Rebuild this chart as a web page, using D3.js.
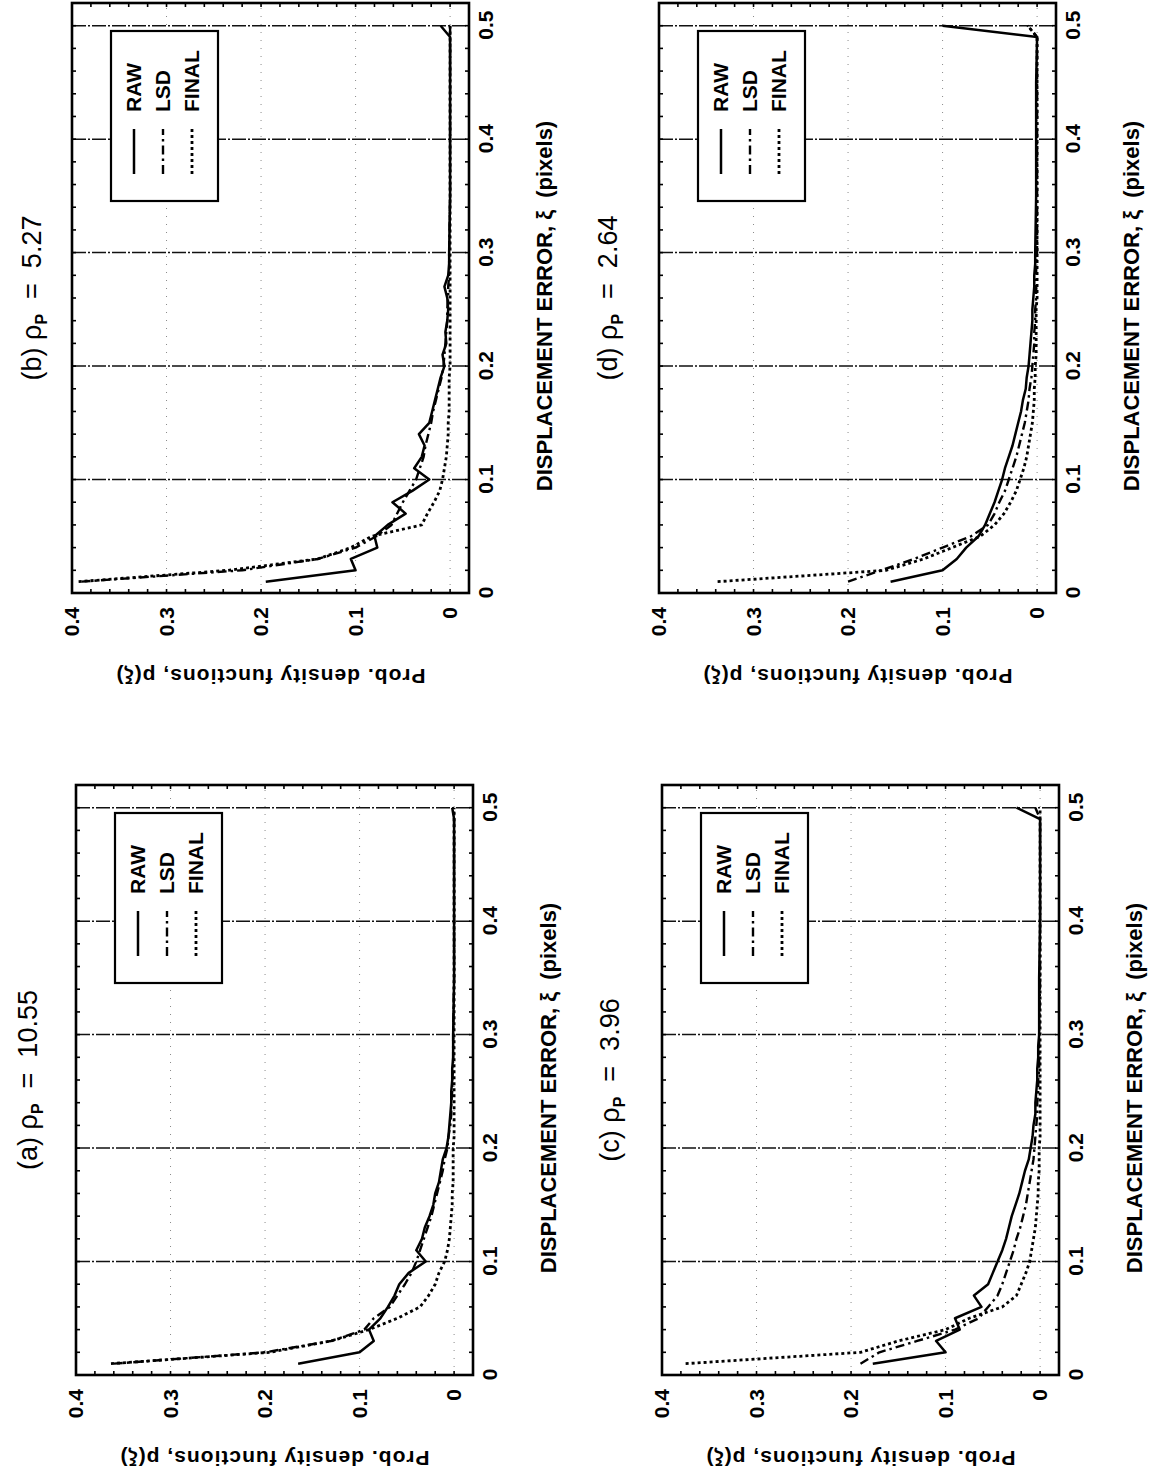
<!DOCTYPE html>
<html><head><meta charset="utf-8">
<script src="https://cdn.jsdelivr.net/npm/d3@7"></script>
<style>
body{margin:0;background:#fff;}
svg{display:block;}
text{font-family:"Liberation Sans",Arial,Helvetica,sans-serif;fill:#000;}
</style></head><body>
<svg id="chart" width="1149" height="1478"></svg>
<script>
// ---- data ----
const xValues = [0.01,0.02,0.03,0.04,0.05,0.06,0.07,0.08,0.09,0.10,
                 0.11,0.12,0.13,0.14,0.15,0.16,0.17,0.18,0.19,0.20,
                 0.21,0.22,0.23,0.24,0.25,0.26,0.27,0.28,0.29,0.30,
                 0.35,0.40,0.45,0.49,0.50];
const panelLabels = ["(a)","(b)","(c)","(d)"];
const rhoValues = ["10.55","5.27","3.96","2.64"];
const seriesNames = ["RAW","LSD","FINAL"];
const xTickValues = [0,0.1,0.2,0.3,0.4,0.5];
const yTickValues = [0,0.1,0.2,0.3,0.4];
const xDomain = [0,0.52];
const yDomain = [-0.02,0.4];

const rawA   = [0.165,0.100,0.085,0.090,0.078,0.070,0.063,0.058,0.048,0.030, 0.040,0.034,0.031,0.026,0.022,0.020,0.016,0.014,0.012,0.008, 0.006,0.005,0.004,0.003,0.003,0.002,0.002,0.001,0.001,0.001, 0,0,0,0,0.002];
const lsdA   = [0.360,0.200,0.130,0.095,0.085,0.068,0.060,0.052,0.045,0.040, 0.036,0.032,0.028,0.024,0.021,0.018,0.015,0.012,0.010,0.007, 0.006,0.004,0.003,0.003,0.002,0.002,0.001,0.001,0.001,0.001, 0,0,0,0,0];
const finalA = [0.363,0.195,0.130,0.090,0.060,0.036,0.027,0.020,0.016,0.010, 0.007,0.005,0.004,0.003,0.002,0.002,0.001,0.001,0.001,0.001, 0,0,0,0,0,0,0,0,0,0, 0,0,0,0,0];

const rawB   = [0.195,0.100,0.105,0.077,0.080,0.066,0.047,0.061,0.040,0.022, 0.038,0.030,0.027,0.033,0.022,0.019,0.016,0.013,0.010,0.006, 0.008,0.004,0.005,0.003,0.002,0.003,0.006,0.002,0.001,0.001, 0,0,0,0,0.010];
const lsdB   = [0.390,0.220,0.140,0.100,0.078,0.062,0.056,0.050,0.043,0.036, 0.032,0.028,0.026,0.023,0.020,0.018,0.015,0.012,0.009,0.007, 0.006,0.005,0.004,0.003,0.003,0.002,0.002,0.001,0.001,0.001, 0,0,0,0,0];
const finalB = [0.393,0.235,0.140,0.105,0.083,0.030,0.024,0.017,0.011,0.008, 0.006,0.004,0.003,0.002,0.002,0.001,0.001,0.001,0.001,0, 0,0,0,0,0,0,0,0,0,0, 0,0,0,0,0];

const rawC   = [0.177,0.100,0.110,0.085,0.090,0.062,0.070,0.055,0.050,0.045, 0.040,0.036,0.033,0.030,0.026,0.022,0.019,0.016,0.012,0.010, 0.008,0.007,0.005,0.005,0.004,0.003,0.003,0.002,0.002,0.001, 0.001,0,0,0,0.025];
const lsdC   = [0.190,0.170,0.130,0.090,0.065,0.055,0.045,0.040,0.036,0.032, 0.028,0.025,0.021,0.018,0.015,0.013,0.011,0.009,0.007,0.006, 0.005,0.004,0.003,0.003,0.002,0.002,0.001,0.001,0.001,0.001, 0,0,0,0,0.005];
const finalC = [0.375,0.190,0.150,0.100,0.075,0.040,0.025,0.020,0.015,0.011, 0.009,0.007,0.005,0.004,0.003,0.002,0.002,0.001,0.001,0.001, 0,0,0,0,0,0,0,0,0,0, 0,0,0,0,0];

const rawD   = [0.155,0.100,0.085,0.075,0.062,0.055,0.050,0.045,0.041,0.037, 0.034,0.030,0.026,0.023,0.020,0.017,0.015,0.012,0.011,0.009, 0.008,0.007,0.006,0.005,0.005,0.004,0.003,0.003,0.002,0.002, 0.001,0.001,0.001,0,0.100];
const lsdD   = [0.200,0.165,0.130,0.100,0.070,0.052,0.045,0.040,0.034,0.030, 0.026,0.022,0.019,0.016,0.013,0.011,0.009,0.008,0.006,0.005, 0.004,0.003,0.003,0.002,0.002,0.001,0.001,0.001,0.001,0, 0,0,0,0,0.010];
const finalD = [0.338,0.160,0.120,0.090,0.060,0.045,0.035,0.028,0.022,0.018, 0.014,0.011,0.009,0.007,0.005,0.004,0.003,0.003,0.002,0.002, 0.001,0.001,0.001,0.001,0.001,0,0,0,0,0, 0,0,0,0,0.010];

const panelSeries = [[rawA,lsdA,finalA],[rawB,lsdB,finalB],[rawC,lsdC,finalC],[rawD,lsdD,finalD]];

// ---- layout (unrotated page coordinates: 1478 wide x 1149 tall) ----
const W = 590, H = 397;
const layout = [
  {left:103, top:76,  titleY:28},
  {left:885, top:72,  titleY:32},
  {left:103, top:662, titleY:610},
  {left:885, top:659, titleY:608}
];
const styles = [
  {dash:null,          width:2.5},
  {dash:"9,4,2.5,4",   width:2.4},
  {dash:"3,3",         width:2.8}
];

const svg = d3.select("#chart");
svg.append("rect").attr("width",1149).attr("height",1478).attr("fill","#fff");
const page = svg.append("g").attr("transform","translate(0,1478) rotate(-90)");

const fmt = d => d === 0 ? "0" : d3.format(".1f")(d);

layout.forEach((L, i) => {
  const g = page.append("g").attr("transform", `translate(${L.left},${L.top})`);
  const x = d3.scaleLinear().domain(xDomain).range([0, W]);
  const y = d3.scaleLinear().domain(yDomain).range([H, 0]);

  // faint dotted grid at p values
  g.selectAll(".pg").data(yTickValues.filter(v => v < 0.4)).join("line")
    .attr("x1",0).attr("x2",W).attr("y1",d=>y(d)).attr("y2",d=>y(d))
    .attr("stroke","#8a8a8a").attr("stroke-width",1).attr("stroke-dasharray","1,7");
  // dash-dot grid at x values
  g.selectAll(".xg").data(xTickValues.filter(v => v > 0)).join("line")
    .attr("x1",d=>x(d)).attr("x2",d=>x(d)).attr("y1",0).attr("y2",H)
    .attr("stroke","#111").attr("stroke-width",1.5).attr("stroke-dasharray","14,2,2,2");

  // curves
  const line = d3.line().x(d => x(d[0])).y(d => y(d[1]));
  [2,1,0].forEach(s => {
    const pts = xValues.map((xv, k) => [xv, panelSeries[i][s][k]]);
    g.append("path").datum(pts).attr("d", line)
      .attr("fill","none").attr("stroke","#000")
      .attr("stroke-width", styles[s].width)
      .attr("stroke-linejoin","round")
      .attr("stroke-dasharray", styles[s].dash);
  });

  // frame
  g.append("rect").attr("x",0).attr("y",0).attr("width",W).attr("height",H)
    .attr("fill","none").attr("stroke","#000").attr("stroke-width",2.6);

  // minor inward ticks every 0.02
  const xt = d3.range(0, 0.5201, 0.02);
  const yt = d3.range(-0.02, 0.4001, 0.02);
  g.selectAll(".tb").data(xt).join("line")
    .attr("x1",d=>x(d)).attr("x2",d=>x(d)).attr("y1",H).attr("y2",H-4)
    .attr("stroke","#000").attr("stroke-width",1.6);
  g.selectAll(".tt").data(xt).join("line")
    .attr("x1",d=>x(d)).attr("x2",d=>x(d)).attr("y1",0).attr("y2",4)
    .attr("stroke","#000").attr("stroke-width",1.6);
  g.selectAll(".tl").data(yt).join("line")
    .attr("x1",0).attr("x2",4).attr("y1",d=>y(d)).attr("y2",d=>y(d))
    .attr("stroke","#000").attr("stroke-width",1.6);
  g.selectAll(".tr").data(yt).join("line")
    .attr("x1",W).attr("x2",W-4).attr("y1",d=>y(d)).attr("y2",d=>y(d))
    .attr("stroke","#000").attr("stroke-width",1.6);

  // axes labels
  const ax = g.append("g").attr("transform",`translate(0,${H+9})`)
    .call(d3.axisBottom(x).tickValues(xTickValues).tickSize(0).tickPadding(0).tickFormat(fmt));
  ax.select(".domain").remove();
  ax.selectAll("text").attr("font-size",21).attr("font-weight","bold")
    .attr("font-family",'"Liberation Sans",Arial,sans-serif');
  const ay = g.append("g").attr("transform",`translate(-14,0)`)
    .call(d3.axisLeft(y).tickValues(yTickValues).tickSize(0).tickPadding(0).tickFormat(fmt));
  ay.select(".domain").remove();
  ay.selectAll("text").attr("font-size",21).attr("font-weight","bold")
    .attr("font-family",'"Liberation Sans",Arial,sans-serif');

  // axis titles
  g.append("text").attr("x",W/2 - 8).attr("y",H+83).attr("text-anchor","middle")
    .attr("font-size",22).attr("font-weight","bold")
    .text("DISPLACEMENT ERROR, \u03BE\u00A0\u00A0(pixels)");
  g.append("text").attr("transform",`translate(-76,${H/2}) rotate(-90)`)
    .attr("text-anchor","middle").attr("font-size",21).attr("font-weight","bold")
    .attr("letter-spacing",1)
    .text("Prob. density functions, p(\u03BE)");

  // title
  const t = page.append("text").attr("x", L.left + W/2).attr("y", L.titleY + 9)
    .attr("text-anchor","middle").attr("font-size",27);
  t.append("tspan").text(panelLabels[i] + " \u03C1");
  t.append("tspan").attr("font-size",16).attr("font-weight","bold").attr("dy",6).text("P");
  t.append("tspan").attr("dy",-6).text("\u00A0\u00A0=\u00A0\u00A0" + rhoValues[i]);

  // legend
  const lg = g.append("g").attr("transform",`translate(${W-28-170},39)`);
  lg.append("rect").attr("width",170).attr("height",107)
    .attr("fill","#fff").attr("stroke","#000").attr("stroke-width",2.2);
  seriesNames.forEach((nm, s) => {
    const yy = 23 + s*29;
    lg.append("line").attr("x1",27).attr("x2",72).attr("y1",yy).attr("y2",yy)
      .attr("stroke","#000").attr("stroke-width",styles[s].width)
      .attr("stroke-dasharray",styles[s].dash);
    lg.append("text").attr("x",89).attr("y",yy+7).attr("font-size",21)
      .attr("font-weight","bold").text(nm);
  });
});
</script>
</body></html>
